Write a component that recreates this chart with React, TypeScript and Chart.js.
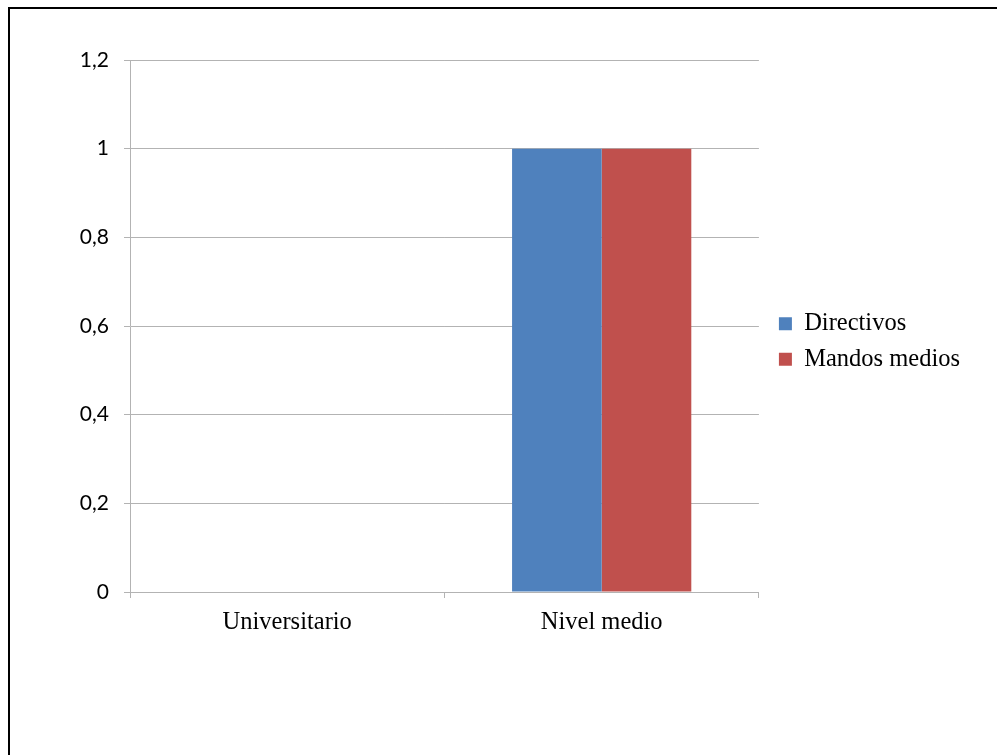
import { useEffect, useRef } from 'react';
import { Chart, registerables } from 'chart.js';

Chart.register(...registerables);

// Education level categories and the two staff groups
const categories = ['Universitario', 'Nivel medio'];
const seriesNames = ['Directivos', 'Mandos medios'];
const directivos = [0, 1];
const mandosMedios = [0, 1];
const yTickLabels = ['0', '0,2', '0,4', '0,6', '0,8', '1', '1,2'];

const BLUE = '#4F81BD';
const RED = '#C0504D';
const GRID = '#b3b3b3';
const SERIF = '"Liberation Serif", "Times New Roman", serif';

// Nudges the right-hand legend away from the plot area and a bit upwards
const legendOffset = {
  id: 'legendOffset',
  afterLayout(chart: any) {
    const l = chart.legend;
    if (l) {
      l.left += 9;
      l.right += 9;
      l.top -= 7;
      l.bottom -= 7;
    }
  },
};

export default function App() {
  const canvasRef = useRef<HTMLCanvasElement | null>(null);

  useEffect(() => {
    const canvas = canvasRef.current;
    if (!canvas) return;
    const chart = new Chart(canvas, {
      type: 'bar',
      data: {
        labels: categories,
        datasets: [
          { label: seriesNames[0], data: directivos, backgroundColor: BLUE, borderWidth: 0 },
          { label: seriesNames[1], data: mandosMedios, backgroundColor: RED, borderWidth: 0 },
        ],
      },
      options: {
        responsive: false,
        animation: false,
        events: [],
        layout: { padding: { top: 60, left: 10, right: 36, bottom: 118 } },
        datasets: { bar: { categoryPercentage: 0.57, barPercentage: 1 } },
        plugins: {
          tooltip: { enabled: false },
          title: { display: false },
          legend: {
            position: 'right',
            labels: {
              boxWidth: 13,
              boxHeight: 13,
              padding: 11,
              color: '#000',
              font: { family: SERIF, size: 24.5 },
            },
          },
        },
        scales: {
          x: {
            grid: {
              offset: true,
              drawOnChartArea: false,
              drawTicks: true,
              tickLength: 6,
              color: GRID,
            },
            border: { display: true, color: GRID },
            ticks: {
              color: '#000',
              padding: 10,
              font: { family: SERIF, size: 24.5 },
            },
            afterFit(scale: any) {
              scale.height = 45;
            },
          },
          y: {
            min: 0,
            max: 1.2,
            grid: { color: GRID, drawTicks: true, tickLength: 6 },
            border: { display: true, color: GRID },
            ticks: {
              stepSize: 0.2,
              color: '#000',
              padding: 15,
              font: { family: 'Lato, "Open Sans", sans-serif', size: 21 },
              callback: (_v: any, i: number) => yTickLabels[i],
            },
            afterFit(scale: any) {
              scale.width = 120;
            },
          },
        },
      },
      plugins: [legendOffset],
    });
    return () => chart.destroy();
  }, []);

  return (
    <>
      <div
        style={{
          position: 'fixed',
          left: 8,
          top: 7,
          right: 0,
          bottom: 0,
          borderTop: '2px solid #000',
          borderLeft: '2px solid #000',
          background: '#fff',
        }}
      />
      <canvas
        ref={canvasRef}
        width={997}
        height={755}
        style={{ position: 'fixed', left: 0, top: 0, width: 997, height: 755 }}
      />
    </>
  );
}
